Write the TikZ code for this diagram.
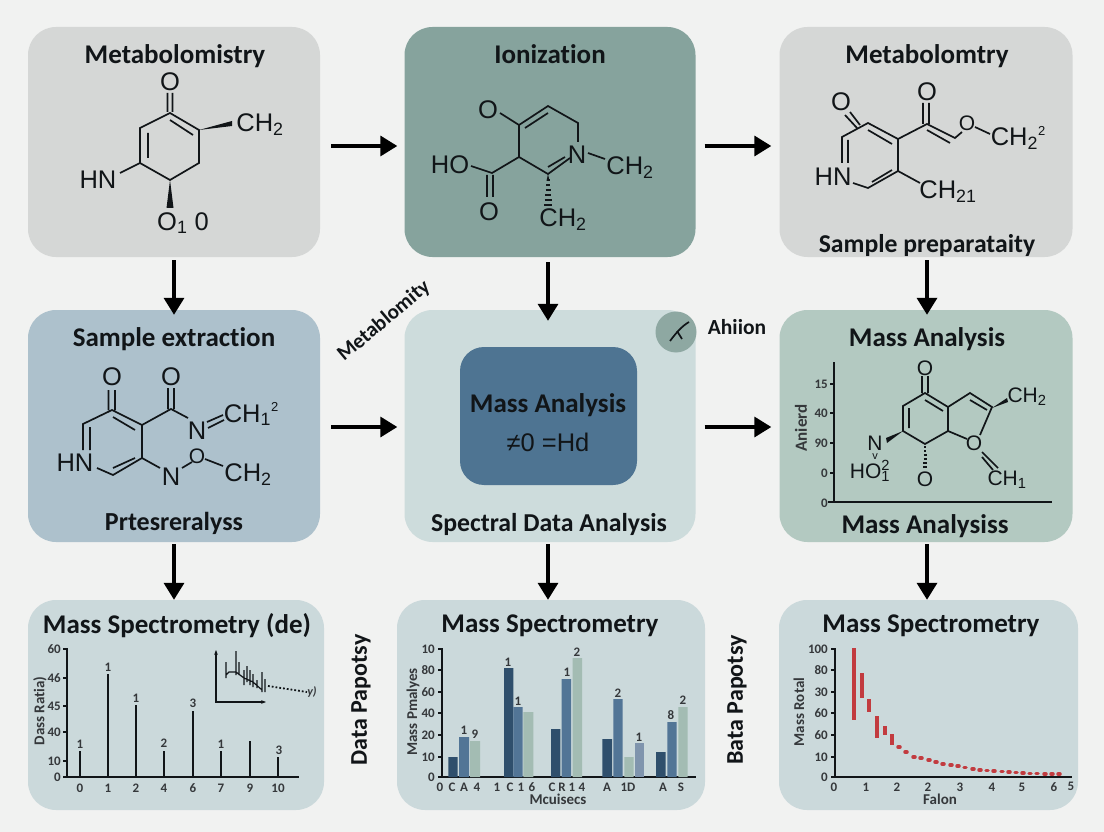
\documentclass[tikz,border=0pt]{standalone}
\usepackage{fontspec}
\setmainfont{Carlito}[Ligatures=NoCommon]
\newfontfamily\atomfont{Liberation Sans}
\newcommand{\smallsup}[1]{\smash{\raisebox{0.42em}{\fontsize{13}{13}\selectfont #1}}}
\usetikzlibrary{arrows.meta}
\definecolor{pagebg}{HTML}{F1F2F1}
\definecolor{greypanel}{HTML}{D5D7D6}
\definecolor{tealpanel}{HTML}{86A39D}
\definecolor{bluepanel}{HTML}{ADC1CC}
\definecolor{palepanel}{HTML}{CDDCDC}
\definecolor{sagepanel}{HTML}{B3C9C1}
\definecolor{chartpanel}{HTML}{CBD9DB}
\definecolor{massbox}{HTML}{4E7492}
\definecolor{discfill}{HTML}{8EA8A2}
\definecolor{inktext}{HTML}{111518}
\definecolor{bardark}{HTML}{2F4F6C}
\definecolor{barmid}{HTML}{527596}
\definecolor{barlight}{HTML}{A3BCB3}
\definecolor{barslate}{HTML}{7F94AD}
\definecolor{redbar}{HTML}{C23B3F}
\begin{document}
\begin{tikzpicture}[x=1pt,y=-1pt,node distance=376pt,>={Triangle[width=20pt,length=17pt]},
	panel/.style={rectangle,rounded corners=28pt,inner sep=0pt,minimum width=292pt,minimum height=230pt},
	title/.style={inner sep=0pt,yshift=-2pt,text=inktext,font=\fontsize{27}{32}\selectfont\bfseries},
	side/.style={inner sep=0pt,text=inktext,rotate=90,font=\fontsize{24}{28}\selectfont\bfseries},
	atom/.style={inner sep=0pt,text=inktext,font=\fontsize{25.5}{30}\selectfont\atomfont},
	smallatom/.style={inner sep=0pt,text=inktext,font=\fontsize{21}{25}\selectfont\atomfont},
	tick/.style={inner sep=0pt,anchor=east,text=inktext!85,font=\fontsize{13}{15}\selectfont\bfseries},
	axislabel/.style={inner sep=0pt,text=inktext!85,font=\fontsize{15}{17}\selectfont\bfseries},
	peak/.style={inner sep=0pt,text=inktext!85,font=\fontsize{13}{15}\selectfont\bfseries},
	bond/.style={draw=inktext,line width=1.7pt},
	axisline/.style={draw=inktext,line width=1.5pt},
	flow/.style={line width=3.5pt}]
\fill[pagebg] (0,0) rectangle (1104,832);
\useasboundingbox (0,0) rectangle (1104,832);

% panels
\node[panel,fill=greypanel]                                         (p_1) at (174,142) {};
\node[panel,fill=tealpanel,minimum width=291pt]                     (p_2) [right of=p_1] {};
\node[panel,fill=greypanel,minimum width=293pt]                     (p_3) [right of=p_2] {};
\node[panel,fill=bluepanel,minimum height=232pt,node distance=284pt] (p_4) [below of=p_1] {};
\node[panel,fill=palepanel,minimum height=232pt,minimum width=291pt] (p_5) [right of=p_4] {};
\node[panel,fill=sagepanel,minimum height=232pt,minimum width=293pt] (p_6) [right of=p_5] {};
\node[panel,fill=chartpanel,minimum width=296pt,minimum height=210pt,node distance=279pt,xshift=2pt]   (p_7) [below of=p_4] {};
\node[panel,fill=chartpanel,minimum width=308pt,minimum height=210pt,node distance=279pt,xshift=1pt]   (p_8) [below of=p_5] {};
\node[panel,fill=chartpanel,minimum width=299pt,minimum height=210pt,node distance=279pt,xshift=2.5pt] (p_9) [below of=p_6] {};
\node[panel,fill=massbox,rounded corners=24pt,minimum width=177pt,minimum height=138pt] (m_1) at (548.5,416) {};
\node[circle,fill=discfill,inner sep=0pt,minimum size=41pt] (d_1) at (676,332) {};

% connectors
\path[->,flow]	([yshift=-4pt]p_1.east)	edge [shorten <=11pt,shorten >=7pt]	([yshift=-4pt]p_2.west)
		([yshift=-4pt]p_2.east)	edge [shorten <=9pt,shorten >=8pt]	([yshift=-4pt]p_3.west)
		([yshift=-1pt]p_4.east)	edge [shorten <=11pt,shorten >=7pt]	([yshift=-1pt]p_5.west)
		([yshift=-1pt]p_5.east)	edge [shorten <=9pt,shorten >=8pt]	([yshift=-1pt]p_6.west)
		(p_1.south)		edge [shorten <=3pt,shorten >=-5pt]	(p_4.north)
		([xshift=-2pt]p_2.south) edge [shorten <=5pt,shorten >=-11pt]	([xshift=-2pt]p_5.north)
		([xshift=1pt]p_3.south)	edge [shorten <=3pt,shorten >=-5pt]	([xshift=1pt]p_6.north)
		(p_4.south)		edge [shorten <=2pt]			(p_4.south |- p_7.north)
		([xshift=-2pt]p_5.south) edge [shorten <=2pt]			([xshift=-2pt]p_5.south |- p_8.north)
		([xshift=1pt]p_6.south)	edge [shorten <=2pt]			([xshift=1pt]p_6.south |- p_9.north);

% titles
\node[title] (t_1) at (175,54)  {Metabolomistry};
\node[title] (t_2) at (550,52)  {Ionization};
\node[title] (t_3) at (927,54)  {Metabolomtry};
\node[title,font=\fontsize{25.7}{30}\selectfont\bfseries] (t_4) at (927,244) {Sample preparataity};
\node[title] (t_5) at (174,337) {Sample extraction};
\node[title,font=\fontsize{26}{30}\selectfont\bfseries] (t_6) at (174,521) {Prtesreralyss};
\node[title] (t_7) at (548,403) {Mass Analysis};
\node[title,font=\fontsize{25.8}{30}\selectfont\bfseries] (t_8) at (549,522) {Spectral Data Analysis};
\node[title] (t_9) at (927,337) {Mass Analysis};
\node[title] (t_10) at (925,524) {Mass Analysiss};
\node[title] (t_11) at (177,624) {Mass Spectrometry (de)};
\node[title] (t_12) at (550,624) {Mass Spectrometry};
\node[title] (t_13) at (931,624) {Mass Spectrometry};
\node[title,rotate=40,font=\fontsize{21}{25}\selectfont\bfseries] (t_14) at (384,319) {Metablomity};
\node[title,font=\fontsize{21.5}{25}\selectfont\bfseries] (t_15) at (737,325) {Ahiion};
\node[side] (t_16) at (361,700) {Data Papotsy};
\node[side] (t_17) at (737,700) {Bata Papotsy};
\node[atom] (t_18) at (548,442) {≠0 =Hd};

% disc mark
\draw[bond] (670,341) .. controls (676,333) and (682,326) .. (689,322);
\draw[bond] (677,331) -- (682,339);

% molecule top left
\node[atom] (a_1) at (170,82)  {O};
\node[atom] (a_2) at (260,125) {CH\textsubscript{2}};
\node[atom] (a_3) at (98,180)  {HN};
\node[atom] (a_4) at (183,223) {O\textsubscript{1} 0};
\path[bond]	(167.5,93) -- (167.5,112) (172.5,93) -- (172.5,112)
		(170,113) -- (199,130) -- (199,163) -- (170,180) -- (140,163) -- (140,128) -- cycle
		(170,120) -- (193,135) (148,133) -- (148,158) (140,163) -- (120,173);
\fill[inktext] (199,130) -- (232,121) -- (232,126) -- cycle;
\fill[inktext] (170,180) -- (166.5,208) -- (173.5,208) -- cycle;

% molecule top middle
\node[atom] (b_1) at (488,110) {O};
\node[atom] (b_2) at (577,155) {N};
\node[atom] (b_3) at (630,168) {CH\textsubscript{2}};
\node[atom] (b_4) at (450,165) {HO};
\node[atom] (b_5) at (489,212) {O};
\node[atom] (b_6) at (563,220) {CH\textsubscript{2}};
\path[bond]	(500,113) -- (519,125) -- (548,106) -- (578,123) -- (578,142)
		(525,128) -- (548,113) (519,125) -- (519,157) -- (548,174) -- (570,158)
		(548,167) -- (565,157) (588,153) -- (605,159)
		(519,157) -- (492,173) -- (471,166)
		(487,175) -- (487,197) (493,175) -- (493,197);
\path[bond,line width=1.3pt] (546.5,180) -- (549.5,180) (546,185) -- (550,185) (545.5,190) -- (550.5,190)
		(545,195) -- (551,195) (544.5,200) -- (551.5,200) (544,205) -- (552,205);
\fill[inktext] (548,174) -- (546.5,181) -- (549.5,181) -- cycle;

% molecule top right
\node[atom] (c_1) at (841,102) {O};
\node[atom] (c_2) at (833,177) {HN};
\node[atom] (c_3) at (927,92)  {O};
\node[smallatom] (c_4) at (967,123) {O};
\node[atom] (c_5) at (1018,139) {CH\textsubscript{2}\smallsup{2}};
\node[atom] (c_6) at (948,192) {CH\textsubscript{21}};
\path[bond]	(845,115) -- (857,128) (850,112) -- (860,125)
		(842,163) -- (842,137) -- (868,123) -- (898,139) -- (898,171) -- (868,188) -- (853,183)
		(848,140) -- (848,163) (868,130) -- (892,144) (892,170) -- (872,182)
		(898,139) -- (927,124) -- (955,138) -- (962,132) (927,130) -- (950,143)
		(923,103) -- (923,124) (929,103) -- (929,124)
		(975,127) -- (990,134) (898,171) -- (920,183);

% molecule middle left
\node[atom] (e_1) at (112,377) {O};
\node[atom] (e_2) at (171,377) {O};
\node[atom] (e_3) at (75,463)  {HN};
\node[atom] (e_4) at (197,431) {N};
\node[atom] (e_5) at (251,415) {CH\textsubscript{1}\smallsup{2}};
\node[atom] (e_6) at (171,477) {N};
\node[smallatom] (e_7) at (197,456) {O};
\node[atom] (e_8) at (248,475) {CH\textsubscript{2}};
\path[bond]	(108.5,390) -- (108.5,410) (115,390) -- (115,410)
		(83,450) -- (83,424) -- (112,410) -- (142,425) -- (142,458) -- (113,475) -- (97,468)
		(113,417) -- (135,430) (90,427) -- (90,450) (135,458) -- (113,468)
		(142,425) -- (171,409) -- (188,418)
		(168,388) -- (168,409) (174,388) -- (174,409)
		(207,422) -- (223,415) (208,428) -- (224,420)
		(142,458) -- (160,468) (182,468) -- (192,462) (205,459) -- (223,466);

% molecule middle right
\node[smallatom] (f_1) at (925,368)  {O};
\node[smallatom] (f_2) at (1027,397) {CH\textsubscript{2}};
\node[smallatom] (f_3) at (974,443)  {O};
\node[smallatom] (f_4) at (1007,480) {CH\textsubscript{1}};
\node[smallatom] (f_5) at (875,443)  {N};
\node[atom,font=\fontsize{11}{12}\selectfont\atomfont] (f_6) at (875,457) {v};
\node[smallatom] (f_7) at (870,471)  {HO\rlap{\textsubscript{1}}\textsuperscript{2}};
\node[smallatom] (f_8) at (925,479)  {O};
\path[bond]	(922,376) -- (922,393) (928,376) -- (928,393)
		(925,393) -- (948,407) -- (948,431) -- (925,444) -- (903,431) -- (903,406) -- cycle
		(925,400) -- (943,411) (909,408) -- (909,428)
		(948,407) -- (970,393) -- (992,407) -- (980,435) (948,431) -- (967,439)
		(970,400) -- (987,410) (982,452) -- (998,468) (982,457) -- (993,470);
\fill[inktext] (992,408) -- (1007,398) -- (1008,402) -- cycle;
\fill[inktext] (903,431) -- (886,438) -- (887,443) -- cycle;
\path[bond,line width=1.3pt] (924,447) -- (926,447) (924,451) -- (926,451) (923.5,455) -- (926.5,455)
		(923.5,459) -- (926.5,459) (923,463) -- (927,463) (923,467) -- (927,467);

% axes of the middle right chart
\path[axisline] (834,362) -- (834,502) (828,502) -- (1052,502)
		(830,384) -- (834,384) (830,413) -- (834,413) (830,443) -- (834,443) (830,473) -- (834,473);
\node[tick] (g_1) at (828,384) {15};
\node[tick] (g_2) at (828,413) {40};
\node[tick] (g_3) at (828,443) {90};
\node[tick] (g_4) at (828,473) {0};
\node[tick] (g_5) at (828,503) {0};
\node[axislabel,rotate=90,font=\fontsize{17}{20}\selectfont\bfseries] (g_6) at (801,428) {Anierd};

% chart bottom left
\path[axisline] (67,648) -- (67,777) -- (299,777)
		(63,649) -- (67,649) (63,678) -- (67,678) (63,706) -- (67,706)
		(63,732) -- (67,732) (63,761) -- (67,761) (63,777) -- (67,777);
\path[axisline] (80,777) -- (80,751) (108,777) -- (108,674) (136,777) -- (136,705) (164,777) -- (164,751)
		(193,777) -- (193,711) (221,777) -- (221,751) (250,777) -- (250,741) (278,777) -- (278,757);
\node[tick] (h_1) at (61,649) {60};
\node[tick] (h_2) at (61,678) {46};
\node[tick] (h_3) at (61,706) {45};
\node[tick] (h_4) at (61,732) {40};
\node[tick] (h_5) at (61,761) {10};
\node[tick] (h_6) at (61,777) {0};
\node[axislabel,rotate=90] (h_7) at (40,711) {Dass Ratia)};
\node[peak] (h_8)  at (80,788)  {0};
\node[peak] (h_9)  at (108,788) {1};
\node[peak] (h_10) at (136,788) {2};
\node[peak] (h_11) at (164,788) {4};
\node[peak] (h_12) at (193,788) {6};
\node[peak] (h_13) at (221,788) {7};
\node[peak] (h_14) at (250,788) {9};
\node[peak] (h_15) at (278,788) {10};
\node[peak] (h_16) at (80,744)  {1};
\node[peak] (h_17) at (108,667) {1};
\node[peak] (h_18) at (136,698) {1};
\node[peak] (h_19) at (164,743) {2};
\node[peak] (h_20) at (193,703) {3};
\node[peak] (h_21) at (221,744) {1};
\node[peak] (h_22) at (279,750) {3};
% small inset
\draw[axisline,line width=1.2pt,{Stealth[length=5pt]}-{Stealth[length=5pt]}] (216,650) -- (216,702) -- (266,702);
\path[bond,line width=1.2pt] (226,662) -- (226,678) (236,651) -- (236,675) (239,662) -- (239,675)
		(244,670) -- (244,685) (247,666) -- (247,682) (250,670) -- (250,685)
		(253,674) -- (253,687) (257,680) -- (257,688) (262,672) -- (262,692) (265,679) -- (265,692)
		(226,675) -- (229,672) -- (236,672) -- (244,678) -- (253,682) -- (262,690);
\path[bond,line width=1.8pt,dotted] (268,686) -- (307,692);
\node[peak,font=\fontsize{12}{14}\selectfont\itshape\bfseries] (h_23) at (312,692) {y)};

% chart bottom middle
\path[axisline] (442,648) -- (442,777) -- (696,777)
		(438,649) -- (442,649) (438,670) -- (442,670) (438,692) -- (442,692) (438,713) -- (442,713)
		(438,735) -- (442,735) (438,757) -- (442,757) (438,777) -- (442,777);
\fill[bardark]	(448.3,757) rectangle (457.7,777) (504,668) rectangle (513.3,777)
		(551,729) rectangle (560.3,777) (602.3,739) rectangle (612,777) (656,752) rectangle (665.7,777);
\fill[barmid]	(459,737) rectangle (469,777) (513.3,707) rectangle (522.7,777)
		(561.7,679) rectangle (571,777) (613.3,699) rectangle (622.7,777) (667.3,722) rectangle (676.7,777);
\fill[barlight]	(470,741) rectangle (480,777) (523.3,712) rectangle (533.3,777)
		(572.7,658) rectangle (582,777) (624.3,757) rectangle (633.7,777) (678.3,707) rectangle (687.7,777);
\fill[barslate]	(635,743) rectangle (644.3,777);
\node[tick] (k_1) at (435,649) {10};
\node[tick] (k_2) at (435,670) {80};
\node[tick] (k_3) at (435,692) {60};
\node[tick] (k_4) at (435,713) {40};
\node[tick] (k_5) at (435,735) {20};
\node[tick] (k_6) at (435,757) {10};
\node[tick] (k_7) at (435,777) {0};
\node[axislabel,rotate=90] (k_8) at (413,712) {Mass Pmalyes};
\node[axislabel] (k_9)  at (558,799) {Mcuisecs};
\node[peak] (k_10) at (440,787) {0};
\node[peak] (k_11) at (452,787) {C};
\node[peak] (k_12) at (464,787) {A};
\node[peak] (k_13) at (477,787) {4};
\node[peak] (k_14) at (497,787) {1};
\node[peak] (k_15) at (510,787) {C};
\node[peak] (k_16) at (521,787) {1};
\node[peak] (k_17) at (532,787) {6};
\node[peak] (k_18) at (552,787) {C};
\node[peak] (k_19) at (562,787) {R};
\node[peak] (k_20) at (572,787) {1};
\node[peak] (k_21) at (582,787) {4};
\node[peak] (k_22) at (607,787) {A};
\node[peak] (k_23) at (628,787) {1D};
\node[peak] (k_24) at (663,787) {A};
\node[peak] (k_25) at (681,787) {S};
\node[peak] (k_26) at (464,730) {1};
\node[peak] (k_27) at (475,734) {9};
\node[peak] (k_28) at (508,662) {1};
\node[peak] (k_29) at (518,701) {1};
\node[peak] (k_30) at (567,672) {1};
\node[peak] (k_31) at (577,652) {2};
\node[peak] (k_32) at (618,693) {2};
\node[peak] (k_33) at (639,737) {1};
\node[peak] (k_34) at (671,715) {8};
\node[peak] (k_35) at (683,700) {2};

% chart bottom right
\path[axisline] (835,648) -- (835,777) -- (1072,777)
		(831,649) -- (835,649) (831,670) -- (835,670) (831,692) -- (835,692) (831,713) -- (835,713)
		(831,735) -- (835,735) (831,757) -- (835,757) (831,777) -- (835,777);
\path[draw=redbar,line width=4pt] (854,648) -- (854,720) (862,673) -- (862,698) (869,699) -- (869,712)
		(877,716) -- (877,738) (885,726) -- (885,735) (892,734) -- (892,745);
\path[draw=redbar,line width=3.5pt,line cap=round]
		(898,747) -- (900,747) (905,752) -- (907,752) (913,757) -- (915,757) (920,758) -- (922,758)
		(928,760) -- (930,760) (935,762) -- (937,762) (942,764) -- (944,764) (950,765) -- (952,765)
		(957,766) -- (959,766) (964,767.5) -- (966,767.5) (972,769) -- (974,769) (979,770) -- (981,770)
		(986,770.5) -- (988,770.5) (993,771) -- (995,771) (1001,771.5) -- (1003,771.5) (1008,772) -- (1010,772)
		(1015,772.5) -- (1017,772.5) (1022,773) -- (1024,773) (1029,773.5) -- (1031,773.5) (1036,773.5) -- (1038,773.5)
		(1044,774) -- (1046,774) (1051,774) -- (1053,774) (1058,774) -- (1060,774);
\node[tick] (n_1) at (828,649) {100};
\node[tick] (n_2) at (828,670) {80};
\node[tick] (n_3) at (828,692) {30};
\node[tick] (n_4) at (828,713) {60};
\node[tick] (n_5) at (828,735) {60};
\node[tick] (n_6) at (828,757) {10};
\node[tick] (n_7) at (828,777) {0};
\node[axislabel,rotate=90] (n_8) at (799,712) {Mass Rotal};
\node[axislabel] (n_9)  at (940,799) {Falon};
\node[peak] (n_10) at (834,787) {0};
\node[peak] (n_11) at (866,787) {1};
\node[peak] (n_12) at (897,787) {2};
\node[peak] (n_13) at (928,787) {2};
\node[peak] (n_14) at (960,787) {3};
\node[peak] (n_15) at (992,787) {4};
\node[peak] (n_16) at (1022,787) {5};
\node[peak] (n_17) at (1054,787) {6};
\node[peak] (n_18) at (1071,786) {5};
\end{tikzpicture}
\end{document}
